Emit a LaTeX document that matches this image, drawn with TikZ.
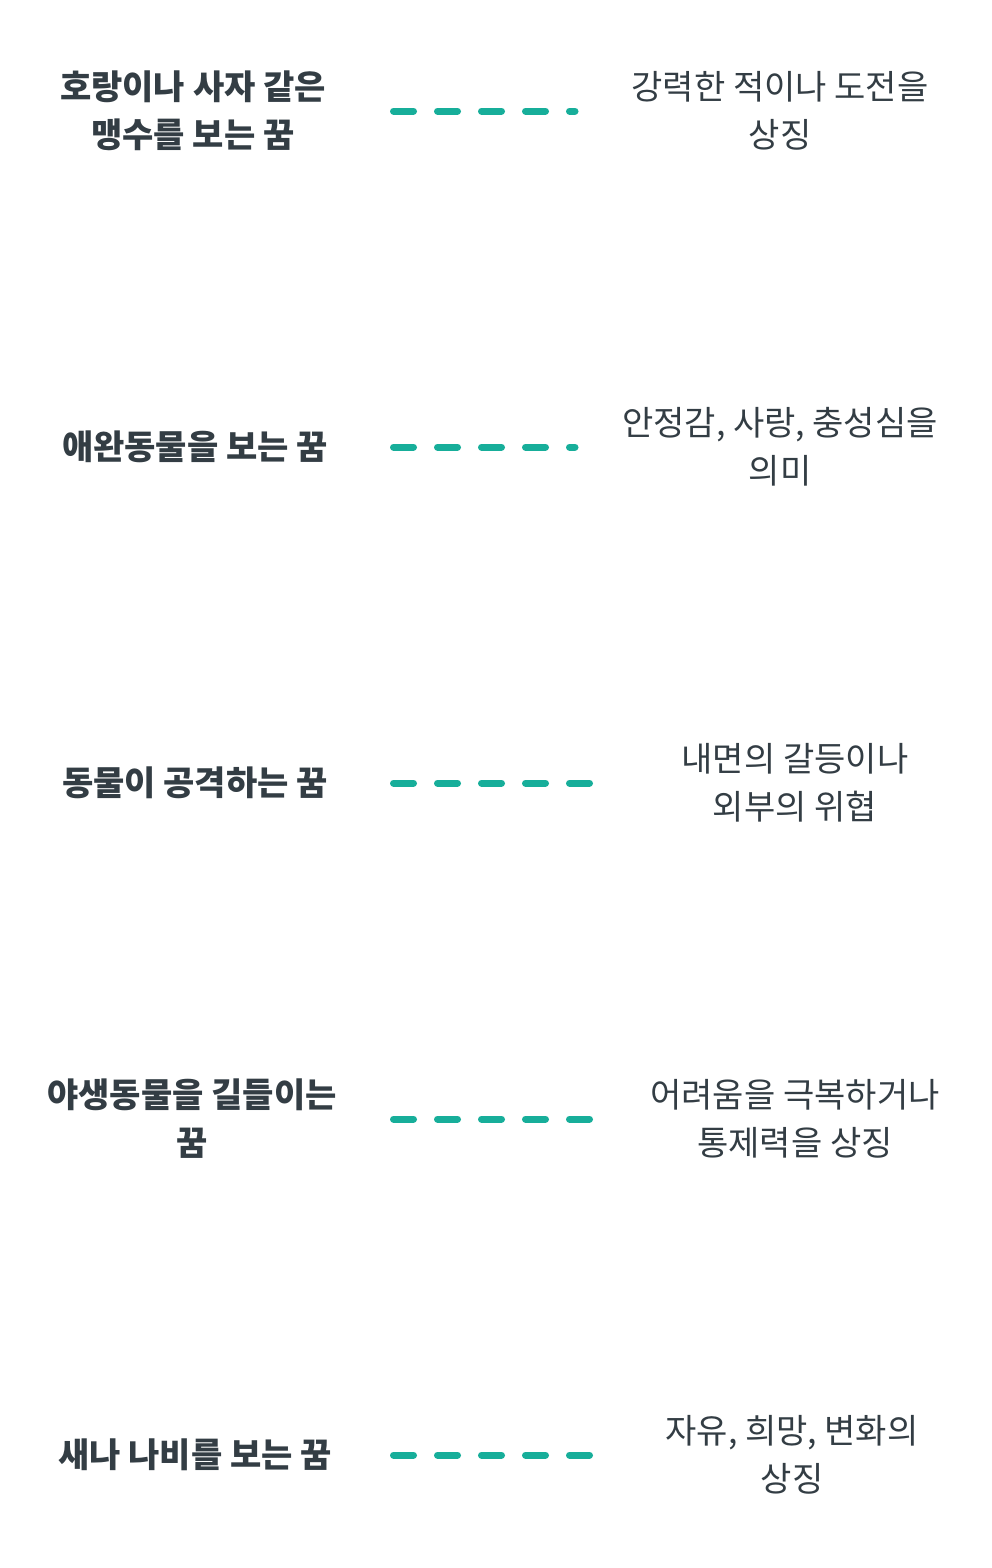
\documentclass[tikz,border=0pt]{standalone}
\usepackage{fontspec}
\setmainfont{Noto Sans CJK KR}
\usetikzlibrary{positioning}
\definecolor{inktext}{HTML}{333D44}
\definecolor{teal}{HTML}{17AE9A}

\begin{document}
\begin{tikzpicture}[x=0.75pt,y=-0.75pt,
  align=center,
  dream/.style={font=\fontsize{25.5}{36}\selectfont\bfseries,text=inktext},
  meaning/.style={font=\fontsize{25.5}{36}\selectfont,text=inktext},
  link/.style={draw=teal,line width=5.25pt,line cap=round,dash pattern=on 15pt off 18pt}
  ]
  \useasboundingbox (0,0) rectangle (992,1568);

  \node[dream] (tiger) at (193,111) {호랑이나 사자 같은\\맹수를 보는 꿈};
  \node[meaning] (challenge) at (780,111) {강력한 적이나 도전을\\상징};
  \coordinate (a1) at (393.5,111);
  \coordinate (b1) at (575,111);

  \node[dream] (pet) at (195,447) {애완동물을 보는 꿈};
  \node[meaning] (love) at (780,447) {안정감, 사랑, 충성심을\\의미};
  \coordinate (a2) at (393.5,447);
  \coordinate (b2) at (575,447);

  \node[dream] (attack) at (195,783) {동물이 공격하는 꿈};
  \node[meaning] (conflict) at (795,783) {내면의 갈등이나\\외부의 위협};
  \coordinate (a3) at (393.5,783);
  \coordinate (b3) at (591,783);

  \node[dream] (tame) at (192,1119) {야생동물을 길들이는\\꿈};
  \node[meaning] (control) at (795,1119) {어려움을 극복하거나\\통제력을 상징};
  \coordinate (a4) at (393.5,1119);
  \coordinate (b4) at (591,1119);

  \node[dream] (bird) at (195,1455) {새나 나비를 보는 꿈};
  \node[meaning] (hope) at (792,1455) {자유, 희망, 변화의\\상징};
  \coordinate (a5) at (393.5,1455);
  \coordinate (b5) at (591,1455);

  \draw[link] (a1) -- (b1);
  \draw[link] (a2) -- (b2);
  \draw[link] (a3) -- (b3);
  \draw[link] (a4) -- (b4);
  \draw[link] (a5) -- (b5);
\end{tikzpicture}
\end{document}
